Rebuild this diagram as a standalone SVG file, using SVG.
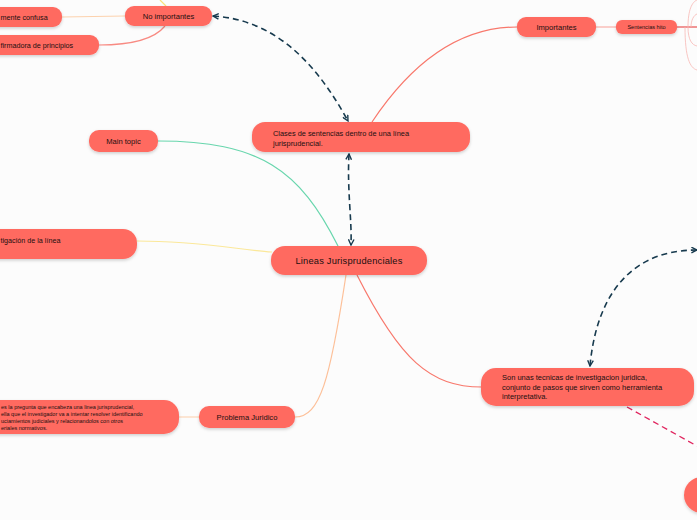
<svg xmlns="http://www.w3.org/2000/svg" width="697" height="520" viewBox="0 0 697 520">
<defs>
<filter id="sh" x="-20%" y="-30%" width="140%" height="170%">
<feDropShadow dx="0" dy="1.5" stdDeviation="1.5" flood-color="#000" flood-opacity="0.18"/>
</filter>
<marker id="ah" viewBox="0 0 10 10" refX="9" refY="5" markerWidth="7" markerHeight="7" orient="auto-start-reverse" markerUnits="userSpaceOnUse">
<path d="M1,1 L9,5 L1,9" fill="none" stroke="#173a4e" stroke-width="2" stroke-linejoin="miter"/>
</marker>
<style>
.n{fill:#ff6a61;filter:url(#sh)}
.t{font-family:"Liberation Sans",Arial,sans-serif;fill:#221010}
.c{fill:none;stroke-width:1.2}
.d{fill:none;stroke:#173a4e;stroke-width:1.6;stroke-dasharray:6 4}
</style>
</defs>
<rect width="697" height="520" fill="#fcfcfc"/>
<g id="connectors">
<path class="c" stroke="#f9e27a" d="M160,0 L166,6"/>
<path class="c" stroke="#fcd2ae" d="M125,16 L62,17"/>
<path class="c" stroke="#f88a82" d="M165,26 C152,42 125,45 99,45"/>
<path class="c" stroke="#f8786c" d="M372,122 C420,50 470,27 517,27"/>
<path class="c" stroke="#f8b0a8" d="M596,27 L616,27"/>
<path class="c" stroke="#e85050" d="M677,27 L697,27"/>
<path fill="none" stroke="#f8b8b4" stroke-width="0.8" d="M688,27 C688,10 692,2 697,0 M688,27 C688,40 692,45 697,46 M685,27 C685,58 690,68 697,70 M691,27 C691,20 694,15 697,14"/>
<path class="c" stroke="#68d6ad" d="M158,141 C260,141 300,170 338,246"/>
<path class="c" stroke="#fbe89a" d="M137,241 C200,241 240,250 272,252"/>
<path class="c" stroke="#fdc099" d="M346,275 C330,380 320,417 295,417"/>
<path class="c" stroke="#fcd6b8" d="M179,417 L199,417"/>
<path class="c" stroke="#f8786c" d="M357,275 C400,360 430,387 482,387"/>
<path class="d" marker-start="url(#ah)" marker-end="url(#ah)" d="M213,16 C280,20 320,70 348,121"/>
<path class="d" marker-start="url(#ah)" marker-end="url(#ah)" d="M349,154 C347,190 352,220 351,245"/>
<path class="d" marker-start="url(#ah)" marker-end="url(#ah)" d="M697,250 C620,250 595,310 590,366"/>
<path fill="none" stroke="#e0245e" stroke-width="1.3" stroke-dasharray="6 4" d="M627,407 L697,446"/>
</g>
<g id="no-importantes">
<rect class="n" x="125" y="6" width="87" height="20" rx="9"/>
<text class="t" x="168.5" y="18.5" font-size="7.6" text-anchor="middle">No importantes</text>
</g>
<g id="confusa">
<rect class="n" x="-20" y="7" width="82" height="20" rx="9"/>
<text class="t" x="0.5" y="19.5" font-size="7.2">mente confusa</text>
</g>
<g id="afirmadora">
<rect class="n" x="-20" y="35" width="119" height="20" rx="9"/>
<text class="t" x="0.5" y="47.5" font-size="7.2">firmadora de principios</text>
</g>
<g id="importantes">
<rect class="n" x="517" y="17" width="79" height="20" rx="9"/>
<text class="t" x="556.5" y="29.5" font-size="7.6" text-anchor="middle">Importantes</text>
</g>
<g id="sentencias-hito">
<rect class="n" x="616" y="20" width="61" height="14" rx="6"/>
<text class="t" x="646.5" y="29" font-size="5.6" text-anchor="middle">Sentencias hito</text>
</g>
<g id="clases">
<rect class="n" x="252" y="122" width="218" height="30" rx="13"/>
<text class="t" x="273" y="136" font-size="7.4">Clases de sentencias dentro de una línea</text>
<text class="t" x="273" y="145.5" font-size="7.4">jurisprudencial.</text>
</g>
<g id="main-topic">
<rect class="n" x="89" y="130" width="69" height="22" rx="10"/>
<text class="t" x="123.5" y="143.5" font-size="7.6" text-anchor="middle">Main topic</text>
</g>
<g id="investigacion">
<rect class="n" x="-20" y="229" width="157" height="30" rx="14"/>
<text class="t" x="0.5" y="242.5" font-size="7.2">tigación de la línea</text>
</g>
<g id="lineas">
<rect class="n" x="271" y="246" width="156" height="29" rx="14"/>
<text class="t" x="349" y="264" font-size="9.3" text-anchor="middle" letter-spacing="0.2">Lineas Jurisprudenciales</text>
</g>
<g id="problema">
<rect class="n" x="199" y="406" width="96" height="22" rx="10"/>
<text class="t" x="247" y="419.5" font-size="7.6" text-anchor="middle">Problema Juridico</text>
</g>
<g id="problema-texto">
<rect class="n" x="-20" y="400" width="199" height="34" rx="15"/>
<text class="t" x="1" y="409" font-size="5.5">es la pregunta que encabeza una linea jurisprudencial,</text>
<text class="t" x="1" y="416" font-size="5.5">ella que el investigador va a intentar resolver identificando</text>
<text class="t" x="1" y="423" font-size="5.5">uciamientos judiciales y relacionandolos con otros</text>
<text class="t" x="1" y="430" font-size="5.5">eriales normativos.</text>
</g>
<g id="son-unas">
<rect class="n" x="481" y="368" width="213" height="38" rx="15"/>
<text class="t" x="502" y="380" font-size="7.5">Son unas tecnicas de investigacion juridica,</text>
<text class="t" x="502" y="389.5" font-size="7.5">conjunto de pasos que sirven como herramienta</text>
<text class="t" x="502" y="399" font-size="7.5">interpretativa.</text>
</g>
<g id="nodo-inferior">
<rect class="n" x="684" y="477" width="40" height="36" rx="18"/>
</g>
</svg>
